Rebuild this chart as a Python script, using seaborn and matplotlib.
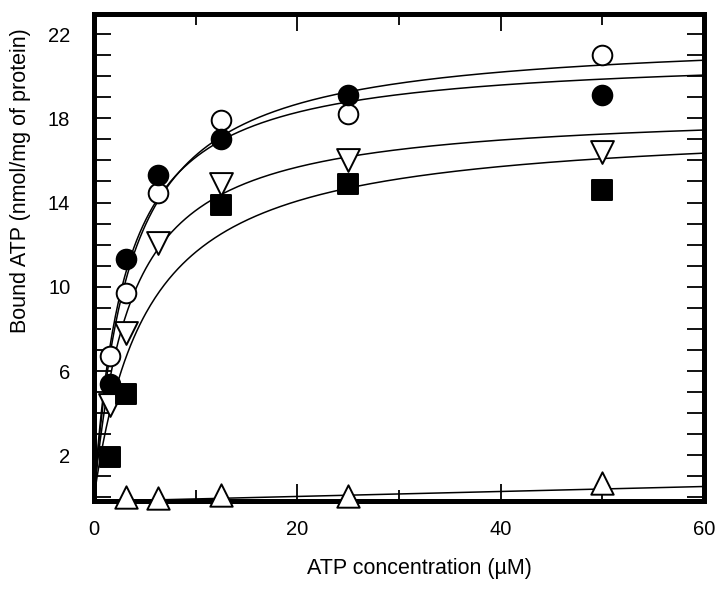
import matplotlib
matplotlib.use("Agg")
import matplotlib.pyplot as plt
import numpy as np
import pandas as pd
import seaborn as sns
from matplotlib.ticker import FixedLocator, MultipleLocator

# ATP concentrations (uM) and bound ATP (nmol/mg of protein)
atp_um = [1.56, 3.125, 6.25, 12.5, 25, 50]
open_circle = [6.7, 9.7, 14.45, 17.9, 18.2, 21.0]
filled_circle = [5.4, 11.3, 15.3, 17.0, 19.1, 19.1]
open_tri_down = [4.4, 7.8, 12.1, 14.9, 16.0, 16.4]
square_um = [1.56, 3.125, 12.5, 25, 50]
filled_square = [1.9, 4.9, 13.9, 14.9, 14.6]
tri_up_um = [3.125, 6.25, 12.5, 25, 50]
open_tri_up = [0.0, -0.04, 0.12, 0.07, 0.69]

# hyperbolic fits (Bmax, Kd) as drawn in the figure
fit_bmax = [21.98, 21.07, 18.48, 17.78]
fit_kd = [3.54, 3.05, 3.57, 5.27]
# near-linear fit of the nonspecific series
lin_slope, lin_icpt = 0.0118, -0.19

x_ticks = [0, 20, 40, 60]
y_ticks = [2, 6, 10, 14, 18, 22]

sns.set_style("ticks")
plt.rcParams["font.family"] = ["Liberation Sans", "DejaVu Sans"]
plt.rcParams["text.color"] = "black"
plt.rcParams["axes.labelcolor"] = "black"
plt.rcParams["xtick.labelcolor"] = "black"
plt.rcParams["ytick.labelcolor"] = "black"

fig = plt.figure(figsize=(7.24, 5.96), dpi=100)
ax = fig.add_axes([0.1298, 0.1594, 0.8425, 0.8171])

xs = np.linspace(0, 60, 400)
for b, k in zip(fit_bmax, fit_kd):
    sns.lineplot(x=xs, y=b * xs / (k + xs), color="black", lw=1.1,
                 errorbar=None, sort=False, ax=ax, zorder=2)
sns.lineplot(x=xs, y=lin_slope * xs + lin_icpt, color="black", lw=1.1,
             errorbar=None, sort=False, ax=ax, zorder=2)

series = [
    (atp_um, open_circle, "o", "white", 200),
    (atp_um, filled_circle, "o", "black", 200),
    (atp_um, open_tri_down, "v", "white", 270),
    (square_um, filled_square, "s", "black", 200),
    (tri_up_um, open_tri_up, "^", "white", 260),
]
for xv, yv, m, fc, s in series:
    df = pd.DataFrame({"x": xv, "y": yv})
    sns.scatterplot(data=df, x="x", y="y", marker=m, s=s, color=fc,
                    edgecolor="black", linewidth=1.4, ax=ax, zorder=4,
                    clip_on=False, legend=False)

ax.set_xlim(0, 60)
ax.set_ylim(-0.17, 22.95)
ax.xaxis.set_major_locator(FixedLocator(x_ticks))
ax.xaxis.set_minor_locator(FixedLocator([10, 30, 50]))
ax.yaxis.set_major_locator(FixedLocator(y_ticks))
ax.yaxis.set_minor_locator(MultipleLocator(1))

ax.tick_params(which="both", direction="in", top=True, right=True,
               width=1.3, color="black", labelsize=14.5)
ax.tick_params(axis="y", which="both", length=12, pad=17)
ax.tick_params(axis="x", which="major", length=12, pad=14)
ax.tick_params(axis="x", which="minor", length=8)
for sp in ax.spines.values():
    sp.set_visible(True)
    sp.set_linewidth(3.6)
    sp.set_color("black")

ax.set_xlabel("ATP concentration (\u00b5M)", fontsize=15.5)
ax.set_ylabel("Bound ATP (nmol/mg of protein)", fontsize=15.5)
ax.xaxis.set_label_coords(0.534, -0.117)
ax.yaxis.set_label_coords(-0.103, 0.657)

fig.savefig("out.png", dpi=100)
